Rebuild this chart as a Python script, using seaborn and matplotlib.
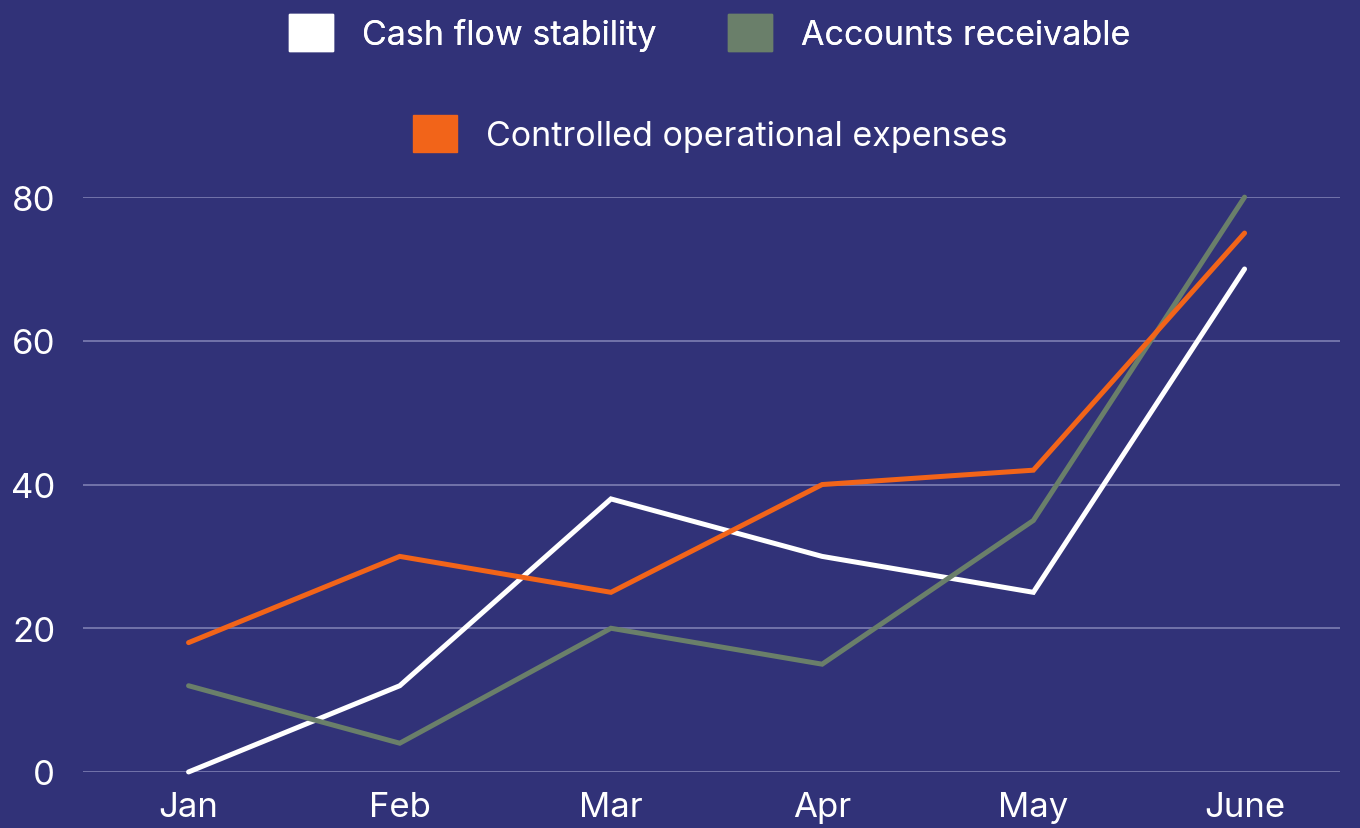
import matplotlib
matplotlib.use("Agg")
import matplotlib.pyplot as plt
from matplotlib.patches import Patch
import pandas as pd
import seaborn as sns

months = ["Jan", "Feb", "Mar", "Apr", "May", "June"]
cash_flow = [0, 12, 38, 30, 25, 70]
receivable = [12, 4, 20, 15, 35, 80]
expenses = [18, 30, 25, 40, 42, 75]
series_names = ["Cash flow stability", "Accounts receivable", "Controlled operational expenses"]
y_ticks = [0, 20, 40, 60, 80]

bg = "#313278"
colors = ["#ffffff", "#6a7f6a", "#f26419"]

# long table for seaborn
df = pd.DataFrame({
    "month": months * 3,
    "value": cash_flow + receivable + expenses,
    "series": [series_names[0]] * 6 + [series_names[1]] * 6 + [series_names[2]] * 6,
})
df["x"] = df["month"].map({m: i for i, m in enumerate(months)})

sns.set_style("dark")
plt.rcParams["font.family"] = ["Inter", "DejaVu Sans"]

fig = plt.figure(figsize=(13.6, 8.29), dpi=100, facecolor=bg)
ax = fig.add_axes([0.061, 0.0676, 0.924, 0.6934])
ax.set_facecolor(bg)

sns.lineplot(data=df, x="x", y="value", hue="series", palette=colors,
             hue_order=series_names, linewidth=3.6, ax=ax, legend=False,
             solid_capstyle="round", solid_joinstyle="miter", clip_on=False)

ax.set_xlim(-0.5, 5.45)
ax.set_ylim(0, 80)
ax.set_xticks(range(len(months)))
ax.set_xticklabels(months)
ax.set_yticks(y_ticks)
ax.set_xlabel("")
ax.set_ylabel("")
ax.tick_params(axis="both", length=0, colors="white", labelsize=25)
ax.tick_params(axis="x", pad=14)
ax.tick_params(axis="y", pad=20)
ax.grid(axis="y", color="#7273aa", linewidth=1.4)
ax.grid(axis="x", visible=False)
for s in ax.spines.values():
    s.set_visible(False)
ax.set_axisbelow(True)

handles = [Patch(facecolor=c, edgecolor=c) for c in colors]
leg1 = fig.legend(handles[:2], series_names[:2], ncol=2, loc="center",
                  bbox_to_anchor=(0.522, 0.96), frameon=False, fontsize=24.5,
                  labelcolor="white", handlelength=1.3, handleheight=1.3,
                  handletextpad=0.85, columnspacing=2.1)
fig.add_artist(leg1)
fig.legend(handles[2:], series_names[2:], loc="center",
           bbox_to_anchor=(0.522, 0.838), frameon=False, fontsize=24.5,
           labelcolor="white", handlelength=1.3, handleheight=1.3,
           handletextpad=0.85)

fig.savefig("out.png", dpi=100, facecolor=bg)
